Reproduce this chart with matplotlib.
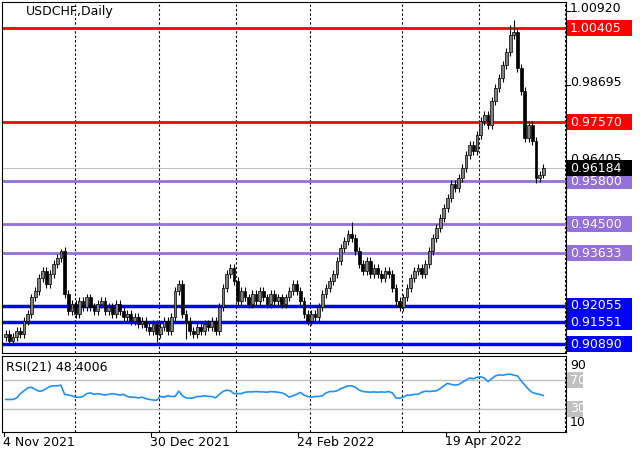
import numpy as np
import matplotlib
matplotlib.use("Agg")
import matplotlib.pyplot as plt
from matplotlib.patches import Rectangle

# ---- data ----
closes = [0.912, 0.910, 0.911, 0.913, 0.912,
          0.916, 0.918, 0.923, 0.925, 0.929,
          0.931, 0.927, 0.930, 0.933, 0.935, 0.937,
          0.924,
          0.919, 0.921, 0.918, 0.922, 0.920, 0.923, 0.920, 0.919, 0.921, 0.922, 0.919,
          0.920, 0.918, 0.921, 0.919, 0.917, 0.918, 0.916, 0.917, 0.915, 0.916, 0.914,
          0.913, 0.915, 0.912, 0.914, 0.916, 0.913,
          0.917, 0.925, 0.927,
          0.918, 0.916,
          0.913, 0.912, 0.914, 0.913, 0.915, 0.914, 0.916, 0.913,
          0.920, 0.926, 0.930, 0.932, 0.928,
          0.922, 0.925, 0.923, 0.921, 0.924, 0.922, 0.925, 0.923, 0.921, 0.924, 0.922,
          0.923, 0.921, 0.923, 0.925,
          0.927, 0.925, 0.922, 0.918, 0.916, 0.918, 0.917, 0.920,
          0.924, 0.926, 0.928, 0.930, 0.934, 0.938,
          0.940, 0.942, 0.941, 0.937,
          0.933, 0.931, 0.934, 0.930, 0.932, 0.930, 0.929, 0.931, 0.930, 0.926, 0.922,
          0.920, 0.923, 0.926, 0.929, 0.931, 0.932, 0.930, 0.933,
          0.937, 0.941, 0.944, 0.947, 0.950,
          0.953, 0.957, 0.956, 0.959, 0.962,
          0.966, 0.969, 0.967, 0.972, 0.976,
          0.978, 0.975, 0.982, 0.986, 0.989,
          0.993, 0.997, 1.002, 1.003, 0.992, 0.985, 0.971, 0.975, 0.970, 0.959, 0.960,
          0.96184]
first_open = 0.911
extra_highs = {15: 0.9375, 94: 0.9457, 138: 1.0065, 137: 1.0050}
extra_lows = {144: 0.9575, 41: 0.9095, 49: 0.9105}

rsi = [42.8, 42.8, 42.8, 45, 51, 55, 59, 60, 57, 54.5,
       55, 58, 61, 62, 62, 63, 50, 49, 48, 46,
       46, 47, 51, 52, 50, 51, 50, 49, 50, 51,
       50, 49, 50, 47, 46, 46, 45, 46, 44, 43,
       42, 41.7, 47, 46, 48, 47, 47, 54.5, 48, 45,
       44.6, 45, 47, 47, 48, 47, 47, 45, 50, 54,
       56, 55, 51, 51, 51, 53, 53.5, 53.5, 54, 53.5,
       53.5, 53, 54, 53.5, 53, 52, 50, 46, 48, 50,
       52.7, 49, 47, 46, 47, 47, 48, 52, 54, 54,
       55, 58, 60, 62, 62, 60, 56, 54, 53.5, 53,
       53.5, 53, 53.5, 53, 54, 52, 45, 44.6, 46, 49,
       49, 50, 50, 53, 54.5, 54, 54.5, 55, 58, 62,
       65.6, 64, 63, 63.8, 67, 70, 73, 72, 74, 74.8,
       73, 68, 72, 76, 77.4, 77, 78, 78.5, 77, 76,
       69, 63, 57, 52.7, 51, 50, 48.4]
rsi_label = "RSI(21) 48.4006"

date_labels = ["4 Nov 2021", "30 Dec 2021", "24 Feb 2022", "19 Apr 2022"]
date_idx = [0, 40, 80, 120]
month_idx = [18.8, 41.6, 62.5, 82.6, 107.6, 128.5, 152]

red_levels = [1.00405, 0.97570]
purple_levels = [0.95800, 0.94500, 0.93633]
blue_levels = [0.92055, 0.91551, 0.90890]
plain_ticks = ["1.00920", "0.98695", "0.96405"]
current = 0.96184

RED, PURPLE, BLUE = "#ff0000", "#9370db", "#0000ff"
FS = 9

W, H = 640, 457
fig = plt.figure(figsize=(6.4, 4.57), dpi=100)
fig.patch.set_facecolor("white")


def fax(l, t, r, b):
    return fig.add_axes([l / W, 1 - b / H, (r - l) / W, (b - t) / H])


ax = fax(2, 2, 566, 353)
ax2 = fax(2, 356, 566, 432)
px = 3.68  # pixels per bar
for a in (ax, ax2):
    a.set_xlim(-1, (564 - 4) / px)
    a.set_xticks([]); a.set_yticks([])
    for s in a.spines.values():
        s.set_color("black"); s.set_linewidth(0.8)
    for m in month_idx:
        a.axvline(m, color="black", ls=(0, (2, 2)), lw=0.8, zorder=1)

ymin, ymax = 0.9063, 1.0119
ax.set_ylim(ymin, ymax)

# candles
opens = [first_open] + closes[:-1]
for i, (o, c) in enumerate(zip(opens, closes)):
    hi = extra_highs.get(i, max(o, c) + 0.0012)
    lo = extra_lows.get(i, min(o, c) - 0.0012)
    ax.vlines(i, lo, hi, color="black", lw=0.8, zorder=3)
    col = "#808080" if c >= o else "black"
    ax.bar(i, max(abs(c - o), 0.0003), bottom=min(o, c), width=0.75,
           color=col, edgecolor="black", lw=0.5, zorder=4)

ax.axhline(current, color="#c0c0c0", lw=0.8, zorder=2)
for lv in red_levels:
    ax.axhline(lv, color=RED, lw=2, zorder=2)
for lv in purple_levels:
    ax.axhline(lv, color=PURPLE, lw=2, zorder=2)
for lv in blue_levels:
    ax.axhline(lv, color=BLUE, lw=2.5, zorder=2)

ax.text(24 / 564, 1 - 10 / 351, "USDCHF,Daily", transform=ax.transAxes,
        fontsize=FS, va="center", ha="left")


def ypix(p):
    return 2 + (ymax - p) / (ymax - ymin) * 351


def rlabel(y, txt, bg=None, fg="black", w=65):
    if bg is not None:
        fig.add_artist(Rectangle((567 / W, 1 - (y + 8) / H), w / W, 16 / H,
                                 transform=fig.transFigure, fc=bg, ec="none", zorder=5))
    fig.text(570 / W, 1 - y / H, txt, fontsize=FS, va="center", ha="left", color=fg, zorder=6)


for t in plain_ticks:
    fig.add_artist(plt.Line2D([566 / W, 570 / W], [1 - ypix(float(t)) / H] * 2, color="black", lw=0.8))
    rlabel(ypix(float(t)) - 2, t)
for lv in red_levels:
    rlabel(ypix(lv), f"{lv:.5f}", RED, "white")
for lv in purple_levels:
    rlabel(ypix(lv), f"{lv:.5f}", PURPLE, "white")
for lv in blue_levels:
    rlabel(ypix(lv), f"{lv:.5f}", BLUE, "white")
rlabel(ypix(current), f"{current:.5f}", "black", "white")

# RSI panel
ax2.set_ylim(-3, 104)
ax2.plot(range(len(rsi)), rsi, color="#1e90ff", lw=1.2, zorder=3)
for lv in (70, 30):
    ax2.axhline(lv, color="#c0c0c0", lw=1, zorder=2)
ax2.text(4 / 564, 0.85, rsi_label, transform=ax2.transAxes,
         fontsize=FS, va="center", ha="left")


def rsipix(v):
    return 356 + (104 - v) / 107 * 76


rlabel(rsipix(90), "90")
rlabel(rsipix(10), "10")
rlabel(rsipix(70), "70", "#c0c0c0", "white", w=16)
rlabel(rsipix(30), "30", "#c0c0c0", "white", w=16)

for lab, i in zip(date_labels, date_idx):
    xp = 4 + px * i
    fig.add_artist(plt.Line2D([xp / W] * 2, [1 - 432 / H, 1 - 436 / H], color="black", lw=0.8))
    fig.text((xp - 1) / W, 1 - 442 / H, lab, fontsize=FS, va="center", ha="left")

fig.savefig("out.png", dpi=100)
